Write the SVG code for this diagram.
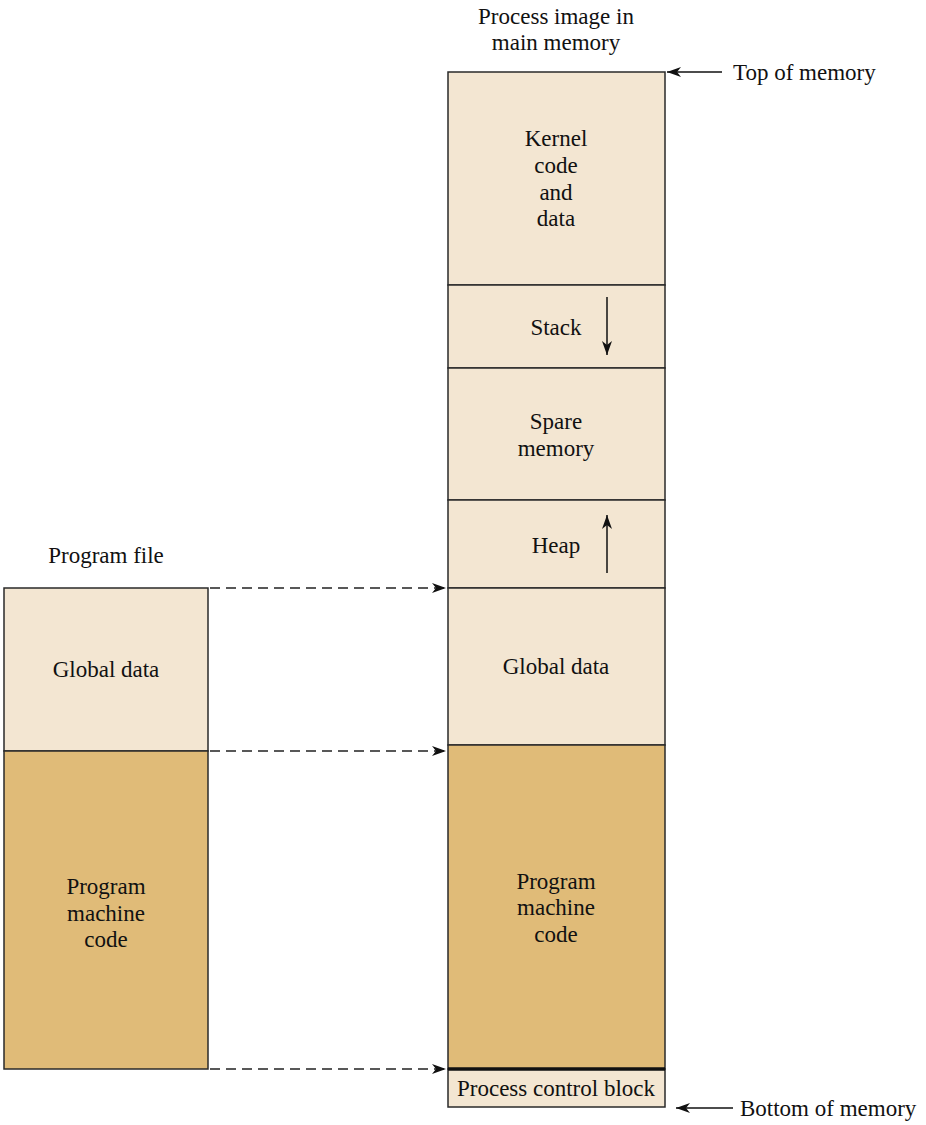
<svg xmlns="http://www.w3.org/2000/svg" width="926" height="1125" viewBox="0 0 926 1125">
<defs>
<style>
text{font-family:'Liberation Serif','Times New Roman',Times,'DejaVu Serif',serif;font-size:23px;fill:#111;text-anchor:middle}
.l{fill:#F3E6D2;stroke:#2a2a2a;stroke-width:1.5}
.d{fill:#E0BB78;stroke:#2a2a2a;stroke-width:1.5}
.c{stroke:#111;stroke-width:1.5;fill:none}
.dash{stroke:#222;stroke-width:1.5;stroke-dasharray:10,6;fill:none}
</style>
<marker id="ah" viewBox="0 0 14 10" refX="14" refY="5" markerWidth="14" markerHeight="10" markerUnits="userSpaceOnUse" orient="auto">
<path d="M0,0 L14,5 L0,10 L4,5 Z" fill="#111"/>
</marker>
</defs>
<rect width="926" height="1125" fill="#fff"/>
<g font-family="Liberation Serif, serif">
<text x="556" y="24">Process image in</text>
<text x="556" y="50">main memory</text>
<text x="106" y="563">Program file</text>
</g>
<g id="kernel"><rect class="l" x="448" y="72" width="217" height="213"/>
<text x="556" y="146">Kernel</text><text x="556" y="173">code</text><text x="556" y="200">and</text><text x="556" y="226">data</text></g>
<g id="stack"><rect class="l" x="448" y="285" width="217" height="83"/>
<text x="556" y="335">Stack</text></g>
<g id="spare"><rect class="l" x="448" y="368" width="217" height="132"/>
<text x="556" y="429">Spare</text><text x="556" y="456">memory</text></g>
<g id="heap"><rect class="l" x="448" y="500" width="217" height="88"/>
<text x="556" y="553">Heap</text></g>
<g id="globalR"><rect class="l" x="448" y="588" width="217" height="157"/>
<text x="556" y="674">Global data</text></g>
<g id="codeR"><rect class="d" x="448" y="745" width="217" height="324"/>
<text x="556" y="889">Program</text><text x="556" y="915">machine</text><text x="556" y="942">code</text></g>
<g id="pcb"><rect class="l" x="448" y="1069" width="217" height="38"/>
<line x1="448" y1="1069" x2="665" y2="1069" stroke="#111" stroke-width="3.5"/>
<text x="556" y="1096">Process control block</text></g>
<g id="globalL"><rect class="l" x="4" y="588" width="204" height="163"/>
<text x="106" y="677">Global data</text></g>
<g id="codeL"><rect class="d" x="4" y="751" width="204" height="318"/>
<text x="106" y="894">Program</text><text x="106" y="921">machine</text><text x="106" y="947">code</text></g>
<g id="labels">
<text x="733" y="80" style="text-anchor:start">Top of memory</text>
<text x="740" y="1116" style="text-anchor:start">Bottom of memory</text>
</g>
<g id="connectors">
<line class="dash" x1="210" y1="588" x2="446" y2="588" marker-end="url(#ah)"/>
<line class="dash" x1="210" y1="751" x2="446" y2="751" marker-end="url(#ah)"/>
<line class="dash" x1="210" y1="1069" x2="446" y2="1069" marker-end="url(#ah)"/>
<line class="c" x1="722" y1="72" x2="667" y2="72" marker-end="url(#ah)"/>
<line class="c" x1="733" y1="1108" x2="676" y2="1108" marker-end="url(#ah)"/>
<line class="c" x1="607" y1="297" x2="607" y2="355" marker-end="url(#ah)"/>
<line class="c" x1="607" y1="573" x2="607" y2="515" marker-end="url(#ah)"/>
</g>
</svg>
